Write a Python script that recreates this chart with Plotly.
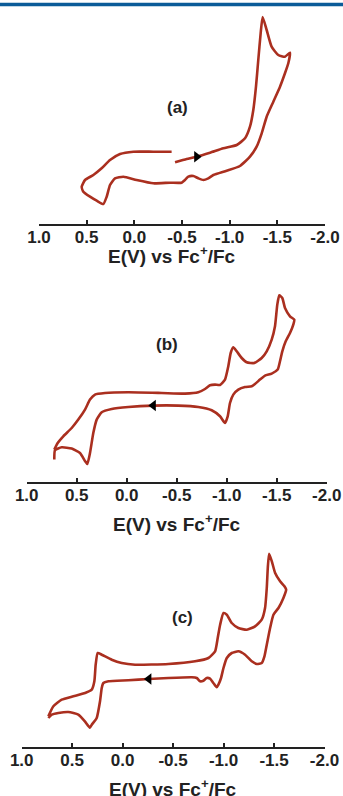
import plotly.graph_objects as go

# ---- data: potential (V vs Fc+/Fc) and current (arbitrary units) ----
E_a = [-0.427, -0.549, -0.654, -0.794, -0.934, -1.074, -1.161, -1.213, -1.248, -1.276, -1.300, -1.325,
       -1.346, -1.388, -1.440, -1.510, -1.580, -1.633, -1.615, -1.580, -1.528, -1.458, -1.388, -1.336,
       -1.283, -1.213, -1.108, -0.968, -0.829, -0.776, -0.724, -0.671, -0.619, -0.566, -0.531, -0.496,
       -0.374, -0.199, -0.024, 0.115, 0.203, 0.255, 0.290, 0.325, 0.395, 0.465, 0.535, 0.552, 0.517,
       0.430, 0.343, 0.255, 0.150, 0.010, -0.199, -0.391]
I_a = [6.17, 6.50, 6.73, 7.13, 7.57, 7.90, 8.57, 9.73, 11.40, 13.73, 16.40, 19.07,
       20.70, 19.40, 17.73, 16.90, 16.73, 17.13, 16.07, 15.07, 13.73, 12.23, 10.73, 9.07,
       7.73, 6.73, 5.80, 5.33, 4.90, 4.57, 4.40, 4.57, 4.80, 4.73, 4.40, 4.13,
       4.13, 4.07, 4.40, 4.73, 4.57, 3.90, 2.73, 2.00, 2.33, 2.73, 3.23, 3.73, 4.40,
       4.90, 5.57, 6.40, 7.00, 7.23, 7.23, 7.23]

E_b = [0.724, 0.717, 0.650, 0.550, 0.467, 0.417, 0.394, 0.367, 0.334, 0.300, 0.250, 0.150, -0.016,
       -0.266, -0.516, -0.716, -0.850, -0.933, -0.983, -1.010, -1.033, -1.066, -1.116, -1.183, -1.250,
       -1.283, -1.333, -1.383, -1.450, -1.510, -1.533, -1.556, -1.590, -1.633, -1.666, -1.676, -1.633,
       -1.583, -1.556, -1.526, -1.506, -1.483, -1.450, -1.400, -1.350, -1.276, -1.200, -1.150, -1.100,
       -1.066, -1.040, -1.016, -0.983, -0.933, -0.883, -0.833, -0.783, -0.716, -0.583, -0.350, -0.016,
       0.217, 0.317, 0.367, 0.417, 0.484, 0.550, 0.634, 0.690, 0.724]
I_b = [2.24, 3.17, 3.47, 3.34, 2.90, 2.10, 1.80, 2.90, 4.90, 6.24, 6.97, 7.30, 7.50,
       7.64, 7.64, 7.50, 7.17, 6.57, 5.90, 6.57, 7.90, 8.74, 9.24, 9.50, 9.57,
       9.80, 10.24, 10.64, 10.84, 11.24, 12.07, 13.07, 14.07, 14.90, 15.74, 16.24, 16.57,
       17.40, 18.40, 18.67, 17.74, 15.57, 14.24, 13.07, 12.40, 11.90, 11.97, 12.40, 13.07,
       13.47, 12.90, 11.57, 10.24, 9.70, 9.74, 9.67, 9.30, 8.97, 8.84, 8.90, 8.97,
       8.90, 8.74, 8.24, 7.24, 6.24, 5.40, 4.57, 3.90, 3.24]

E_c = [0.736, 0.686, 0.604, 0.488, 0.372, 0.306, 0.280, 0.267, 0.247, 0.207, 0.108, 0.009, -0.123,
       -0.453, -0.718, -0.850, -0.916, -0.942, -0.966, -0.999, -1.032, -1.081, -1.147, -1.230, -1.312,
       -1.378, -1.411, -1.428, -1.438, -1.451, -1.478, -1.511, -1.560, -1.603, -1.620, -1.593, -1.544,
       -1.494, -1.461, -1.428, -1.405, -1.378, -1.329, -1.279, -1.213, -1.147, -1.081, -1.032, -0.999,
       -0.975, -0.949, -0.932, -0.899, -0.866, -0.833, -0.800, -0.767, -0.734, -0.685, -0.453, -0.255,
       -0.057, 0.141, 0.191, 0.207, 0.224, 0.257, 0.306, 0.325, 0.372, 0.439, 0.538, 0.637, 0.703, 0.736]
I_c = [3.04, 4.04, 4.70, 5.04, 5.37, 5.70, 6.54, 8.20, 9.37, 9.20, 8.70, 8.37, 8.20,
       8.27, 8.54, 8.87, 9.54, 10.87, 12.20, 13.37, 13.20, 12.37, 11.87, 11.70, 12.04,
       12.70, 13.87, 15.87, 17.87, 19.30, 18.54, 17.37, 16.54, 16.04, 15.70, 14.87, 13.87,
       13.20, 11.87, 10.20, 9.04, 8.37, 8.27, 8.54, 9.20, 9.54, 9.37, 8.87, 7.87,
       6.87, 6.20, 5.94, 6.37, 6.80, 6.87, 6.60, 6.54, 6.87, 6.94, 6.87, 6.77,
       6.64, 6.54, 6.37, 5.87, 4.54, 2.87, 2.20, 1.90, 2.50, 3.20, 3.47, 3.37, 3.20, 2.87]

# sweep-direction arrows: (E, I, symbol)
arrow_a = (-0.654, 6.73, "triangle-right")
arrow_b = (-0.266, 7.64, "triangle-left")
arrow_c = (-0.260, 6.77, "triangle-left")

panel_labels = ["(a)", "(b)", "(c)"]
label_pos = [(-0.448, 11.7), (-0.403, 13.8), (-0.589, 12.9)]

tick_vals = [1.0, 0.5, 0.0, -0.5, -1.0, -1.5, -2.0]
tick_text = ["1.0", "0.5", "0.0", "-0.5", "-1.0", "-1.5", "-2.0"]
x_title = "<b>E(V) vs Fc<sup>+</sup>/Fc</b>"

# ---- layout geometry (pixels) ----
W, H = 343, 796
axis_px = [224, 482, 746.7]            # y pixel of each x-axis line
x_extent_px = [(39, 325), (26.7, 326.7), (21.7, 324.5)]
title_px = [(172, 255), (177, 523), (173, 788)]   # centre of axis titles
panel_h = 215                          # pixel height of each plot area
y_units = 21.5                         # current units spanning panel height

LINE_COLOR = "#aa2f1f"
FONT = "Liberation Sans, Arial, sans-serif"
TICK_SIZE = 17
TITLE_SIZE = 19

fig = go.Figure()
series = [(E_a, I_a, arrow_a), (E_b, I_b, arrow_b), (E_c, I_c, arrow_c)]
for k, (E, I, arr) in enumerate(series):
    xa = "x" if k == 0 else f"x{k+1}"
    ya = "y" if k == 0 else f"y{k+1}"
    fig.add_trace(go.Scatter(x=E, y=I, mode="lines", xaxis=xa, yaxis=ya,
                             line=dict(color=LINE_COLOR, width=2.6, shape="spline", smoothing=0.5),
                             showlegend=False, hoverinfo="skip", cliponaxis=False))
    fig.add_trace(go.Scatter(x=[arr[0]], y=[arr[1]], mode="markers", xaxis=xa, yaxis=ya,
                             marker=dict(symbol=arr[2], size=10, color="black"),
                             showlegend=False, hoverinfo="skip"))
    fig.add_annotation(x=label_pos[k][0], y=label_pos[k][1], xref=xa, yref=ya,
                       text=f"<b>{panel_labels[k]}</b>", showarrow=False,
                       font=dict(family=FONT, size=17, color="#222"))
    fig.add_annotation(x=title_px[k][0] / W, y=1 - title_px[k][1] / H, xref="paper", yref="paper",
                       xanchor="center", yanchor="middle", text=x_title, showarrow=False,
                       font=dict(family=FONT, size=TITLE_SIZE, color="#222"))

    y0 = 1 - axis_px[k] / H
    y1 = min(1.0, y0 + panel_h / H)
    x0 = x_extent_px[k][0] / W
    x1 = x_extent_px[k][1] / W
    xkey = "xaxis" if k == 0 else f"xaxis{k+1}"
    ykey = "yaxis" if k == 0 else f"yaxis{k+1}"
    fig.layout[xkey] = dict(domain=[x0, x1], anchor=ya, range=[1.0, -2.0],
                            tickvals=tick_vals, ticktext=tick_text,
                            showline=True, linecolor="#222", linewidth=1.6,
                            ticks="inside", ticklen=4, tickwidth=1.6, tickcolor="#222",
                            ticklabelstandoff=-3,
                            showgrid=False, zeroline=False, automargin=False,
                            tickfont=dict(family=FONT, size=TICK_SIZE, color="#222", weight="bold"),
                            fixedrange=True)
    fig.layout[ykey] = dict(domain=[y0, y1], anchor=xa, range=[0, y_units * (y1 - y0) * H / panel_h],
                            visible=False, fixedrange=True, automargin=False)

# top rule
fig.add_shape(type="line", xref="paper", yref="paper", x0=0, x1=1,
              y0=1 - 4.5 / H, y1=1 - 4.5 / H, line=dict(color="#0b5c99", width=3.5))

fig.update_layout(width=W, height=H, autosize=False,
                  margin=dict(l=0, r=0, t=0, b=0, autoexpand=False),
                  paper_bgcolor="white", plot_bgcolor="white",
                  showlegend=False)

fig.write_html("out.html", config={"displayModeBar": False},
               post_script="document.documentElement.style.margin='0';document.body.style.margin='0';"
                           "document.body.style.overflow='hidden';window.scrollTo(0,0);")
